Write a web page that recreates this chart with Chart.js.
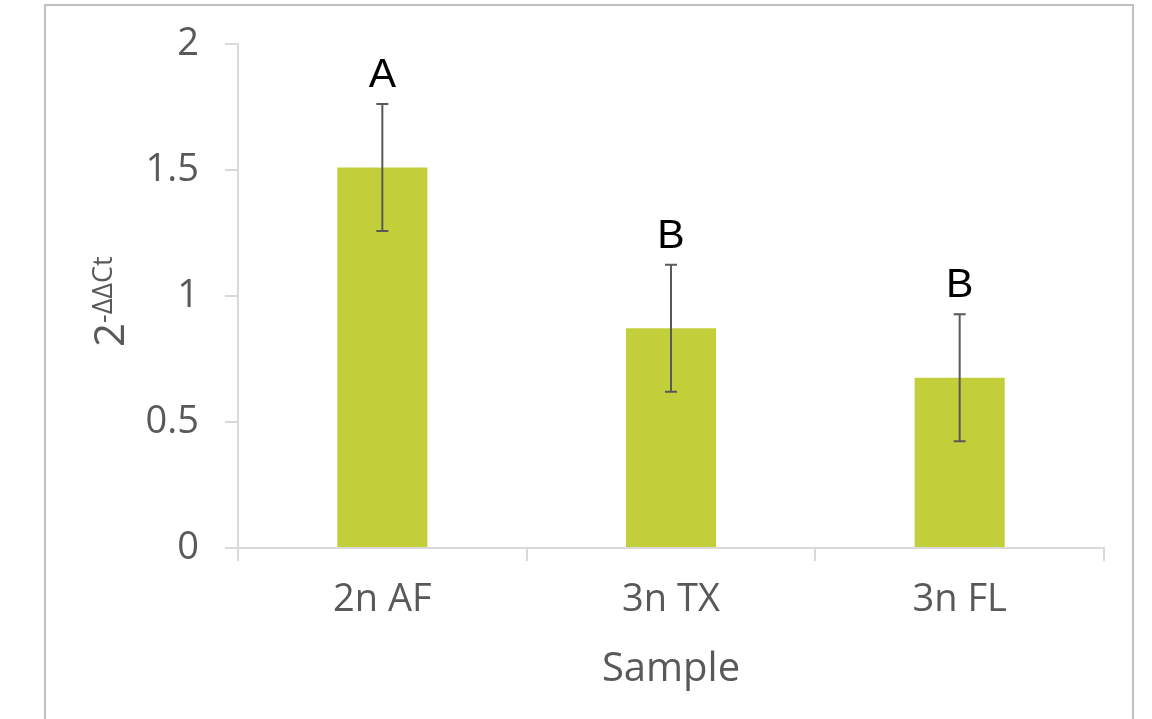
<!DOCTYPE html>
<html>
<head>
<meta charset="utf-8">
<script src="https://cdn.jsdelivr.net/npm/chart.js@4/dist/chart.umd.min.js"></script>
<style>
  html, body { margin: 0; padding: 0; background: #ffffff; }
  #wrap { width: 1152px; height: 719px; position: relative; }
</style>
</head>
<body>
<div id="wrap"><canvas id="c" width="1152" height="719"></canvas></div>
<script>
const categories = ['2n AF', '3n TX', '3n FL'];
const values = [1.51, 0.872, 0.676];
const errors = [0.252, 0.252, 0.252];
const letters = ['A', 'B', 'B'];
const yTicks = [0, 0.5, 1, 1.5, 2];

const frame = {
  id: 'frame',
  beforeDraw(chart) {
    const ctx = chart.ctx;
    ctx.save();
    ctx.strokeStyle = '#bfbfbf';
    ctx.lineWidth = 2;
    ctx.beginPath();
    ctx.moveTo(45, 740);
    ctx.lineTo(45, 5);
    ctx.lineTo(1133, 5);
    ctx.lineTo(1133, 740);
    ctx.stroke();
    ctx.restore();
  }
};

const extras = {
  id: 'extras',
  afterDatasetsDraw(chart) {
    const ctx = chart.ctx;
    const x = chart.scales.x, y = chart.scales.y;
    ctx.save();
    ctx.strokeStyle = '#595959';
    ctx.lineWidth = 2;
    values.forEach((v, i) => {
      const cx = x.getPixelForValue(i);
      const yt = y.getPixelForValue(v + errors[i]);
      const yb = y.getPixelForValue(v - errors[i]);
      ctx.beginPath();
      ctx.moveTo(cx, yt); ctx.lineTo(cx, yb);
      ctx.moveTo(cx - 6, yt); ctx.lineTo(cx + 6, yt);
      ctx.moveTo(cx - 6, yb); ctx.lineTo(cx + 6, yb);
      ctx.stroke();
      ctx.fillStyle = '#000000';
      ctx.font = '41px "Liberation Sans", Arial, sans-serif';
      ctx.textAlign = 'center';
      ctx.textBaseline = 'alphabetic';
      ctx.fillText(letters[i], cx, yt - 17);
    });
    // y-axis title 2^-ΔΔCt
    ctx.fillStyle = '#595959';
    ctx.translate(124, 347);
    ctx.rotate(-Math.PI / 2);
    ctx.textAlign = 'left';
    ctx.font = '42px "Open Sans", sans-serif';
    ctx.fillText('2', 0, 0);
    const w = ctx.measureText('2').width;
    ctx.font = '27px "Open Sans", sans-serif';
    ctx.fillText('-ΔΔCt', w, -12);
    ctx.restore();
  }
};

new Chart(document.getElementById('c'), {
  type: 'bar',
  data: {
    labels: categories,
    datasets: [{
      data: values,
      backgroundColor: '#c3cf3a',
      borderWidth: 0,
      categoryPercentage: 1,
      barPercentage: 0.312
    }]
  },
  options: {
    responsive: false,
    animation: false,
    layout: { padding: { left: 0, right: 48, top: 44, bottom: 0 } },
    plugins: { legend: { display: false }, tooltip: { enabled: false } },
    scales: {
      x: {
        afterFit(s) { s.height = 171; },
        grid: { display: true, drawOnChartArea: false, drawTicks: true, tickLength: 13, color: '#d9d9d9', lineWidth: 2, offset: true },
        border: { display: true, color: '#d9d9d9', width: 2 },
        ticks: { color: '#595959', font: { family: 'Open Sans', size: 38 }, padding: 16 },
        title: { display: true, text: 'Sample', color: '#595959', font: { family: 'Open Sans', size: 40 }, padding: { top: 0, bottom: 25 } }
      },
      y: {
        min: 0, max: 2,
        afterFit(s) { s.width = 238; s.paddingTop = 0; s.paddingBottom = 0; },
        afterBuildTicks(s) { s.ticks = yTicks.map(v => ({ value: v })); },
        grid: { display: true, drawOnChartArea: false, drawTicks: true, tickLength: 13, color: '#d9d9d9', lineWidth: 2 },
        border: { display: true, color: '#d9d9d9', width: 2 },
        ticks: { color: '#595959', font: { family: 'Open Sans', size: 38 }, padding: 26, callback: (v) => String(v) }
      }
    }
  },
  plugins: [frame, extras]
});
</script>
</body>
</html>
